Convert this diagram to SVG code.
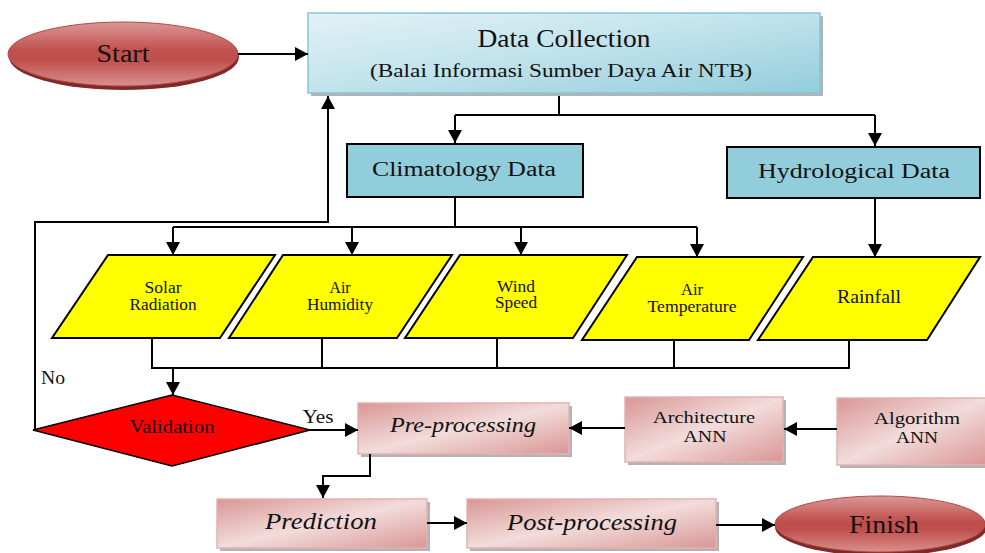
<svg xmlns="http://www.w3.org/2000/svg" width="985" height="553" viewBox="0 0 985 553">
<defs>
<marker id="arr" markerUnits="userSpaceOnUse" markerWidth="15" markerHeight="15" refX="13" refY="7" orient="auto">
<path d="M0,0 L13,7 L0,14 z" fill="#000"/>
</marker>
<linearGradient id="pink" x1="0" y1="0" x2="1" y2="1">
<stop offset="0" stop-color="#D99694"/>
<stop offset="0.5" stop-color="#F2DCDB"/>
<stop offset="1" stop-color="#D99694"/>
</linearGradient>
<linearGradient id="blue" x1="0" y1="0" x2="1" y2="1">
<stop offset="0" stop-color="#E2F2F6"/>
<stop offset="0.45" stop-color="#C4E4EC"/>
<stop offset="1" stop-color="#92CDDC"/>
</linearGradient>
<linearGradient id="red" x1="0" y1="0" x2="0" y2="1">
<stop offset="0" stop-color="#DA9896"/>
<stop offset="0.45" stop-color="#C0504D"/>
<stop offset="0.6" stop-color="#C0504D"/>
<stop offset="1" stop-color="#D8908E"/>
</linearGradient>
</defs>
<style>
text{font-family:"Liberation Serif","Times New Roman",serif;fill:#111;text-anchor:middle}
.conn{fill:none;stroke:#000;stroke-width:2}
.arrow{fill:none;stroke:#000;stroke-width:2;marker-end:url(#arr)}
.para{fill:#FFFF00;stroke:#000;stroke-width:2}
.pink{fill:url(#pink);stroke:#E3B3B2;stroke-width:1.5}
.shadow{fill:#A0A0A0;opacity:0.8}
.cyan{fill:#92CDDC;stroke:#000;stroke-width:2}
.oval{fill:url(#red);stroke:#B64845;stroke-width:1}
.ovsh{fill:#7E2A28}
.it{font-style:italic}
</style>

<g id="start">
<ellipse class="ovsh" cx="124" cy="57" rx="115" ry="33"/>
<ellipse class="oval" cx="123" cy="54" rx="115" ry="32"/>
<text x="123" y="62" font-size="26" textLength="53" lengthAdjust="spacingAndGlyphs">Start</text>
</g>

<g id="data-collection">
<rect class="shadow" x="311" y="16" width="512" height="80"/>
<rect x="308" y="13" width="512" height="80" fill="url(#blue)" stroke="#86C5D7" stroke-width="1.5"/>
<text x="564" y="47" font-size="25" textLength="173" lengthAdjust="spacingAndGlyphs">Data Collection</text>
<text x="561" y="77" font-size="19" textLength="382" lengthAdjust="spacingAndGlyphs">(Balai Informasi Sumber Daya Air NTB)</text>
</g>

<g id="climatology">
<rect class="cyan" x="347" y="144" width="236" height="53"/>
<text x="464" y="176" font-size="20" textLength="184" lengthAdjust="spacingAndGlyphs">Climatology Data</text>
</g>

<g id="hydrological">
<rect class="cyan" x="727" y="147" width="253" height="51"/>
<text x="854" y="178" font-size="20" textLength="192" lengthAdjust="spacingAndGlyphs">Hydrological Data</text>
</g>

<g id="solar-radiation">
<polygon class="para" points="108,255 275,255 220,338 52,338"/>
<text x="163" y="293" font-size="16" textLength="37" lengthAdjust="spacingAndGlyphs">Solar</text>
<text x="163" y="310" font-size="16" textLength="67" lengthAdjust="spacingAndGlyphs">Radiation</text>
</g>

<g id="air-humidity">
<polygon class="para" points="283,255 452,255 397,338 229,338"/>
<text x="340" y="293" font-size="16" textLength="21" lengthAdjust="spacingAndGlyphs">Air</text>
<text x="340" y="310" font-size="16" textLength="66" lengthAdjust="spacingAndGlyphs">Humidity</text>
</g>

<g id="wind-speed">
<polygon class="para" points="460,255 627,255 573,338 405,338"/>
<text x="516" y="292" font-size="16" textLength="38" lengthAdjust="spacingAndGlyphs">Wind</text>
<text x="516" y="308" font-size="16" textLength="42" lengthAdjust="spacingAndGlyphs">Speed</text>
</g>

<g id="air-temperature">
<polygon class="para" points="637,257 803,257 749,340 582,340"/>
<text x="692" y="295" font-size="16" textLength="22" lengthAdjust="spacingAndGlyphs">Air</text>
<text x="692" y="312" font-size="16" textLength="89" lengthAdjust="spacingAndGlyphs">Temperature</text>
</g>

<g id="rainfall">
<polygon class="para" points="813,257 980,257 927,340 758,340"/>
<text x="869" y="303" font-size="18" textLength="64" lengthAdjust="spacingAndGlyphs">Rainfall</text>
</g>

<g id="validation">
<polygon points="33,430 172,395 310,430 172,466" fill="#FF0000" stroke="#000" stroke-width="1.5"/>
<text x="172" y="433" font-size="18" textLength="85" lengthAdjust="spacingAndGlyphs">Validation</text>
</g>

<g id="pre-processing">
<rect class="shadow" x="361" y="406" width="211" height="51"/>
<rect class="pink" x="358" y="403" width="211" height="51"/>
<text class="it" x="463" y="432" font-size="22" textLength="146" lengthAdjust="spacingAndGlyphs">Pre-processing</text>
</g>

<g id="architecture-ann">
<rect class="shadow" x="628" y="400" width="158" height="65"/>
<rect class="pink" x="625" y="397" width="158" height="65"/>
<text x="704" y="423" font-size="17" textLength="102" lengthAdjust="spacingAndGlyphs">Architecture</text>
<text x="705" y="442" font-size="17" textLength="43" lengthAdjust="spacingAndGlyphs">ANN</text>
</g>

<g id="algorithm-ann">
<rect class="shadow" x="840" y="401" width="150" height="67"/>
<rect class="pink" x="837" y="398" width="150" height="67"/>
<text x="917" y="424" font-size="17" textLength="86" lengthAdjust="spacingAndGlyphs">Algorithm</text>
<text x="917" y="443" font-size="17" textLength="42" lengthAdjust="spacingAndGlyphs">ANN</text>
</g>

<g id="prediction">
<rect class="shadow" x="220" y="502" width="210" height="49"/>
<rect class="pink" x="217" y="499" width="210" height="49"/>
<text class="it" x="321" y="529" font-size="24" textLength="112" lengthAdjust="spacingAndGlyphs">Prediction</text>
</g>

<g id="post-processing">
<rect class="shadow" x="470" y="502" width="249" height="49"/>
<rect class="pink" x="467" y="499" width="249" height="49"/>
<text class="it" x="592" y="530" font-size="24" textLength="170" lengthAdjust="spacingAndGlyphs">Post-processing</text>
</g>

<g id="finish">
<ellipse class="ovsh" cx="881" cy="527" rx="106" ry="29"/>
<ellipse class="oval" cx="880" cy="524" rx="105" ry="28"/>
<text x="884" y="533" font-size="26" textLength="70" lengthAdjust="spacingAndGlyphs">Finish</text>
</g>

<g id="connectors">
<line class="arrow" x1="238" y1="54" x2="308" y2="54"/>
<path class="conn" d="M559,96 V115 M455,115 H875"/>
<line class="arrow" x1="455" y1="115" x2="455" y2="143"/>
<line class="arrow" x1="875" y1="115" x2="875" y2="146"/>
<path class="conn" d="M455,197 V227 M173,227 H697"/>
<line class="arrow" x1="173" y1="227" x2="173" y2="255"/>
<line class="arrow" x1="352" y1="227" x2="352" y2="255"/>
<line class="arrow" x1="521" y1="227" x2="521" y2="255"/>
<line class="arrow" x1="697" y1="227" x2="697" y2="257"/>
<line class="arrow" x1="875" y1="198" x2="875" y2="257"/>
<path class="conn" d="M152,338 V368 H849 V340 M322,338 V368 M497,338 V368 M674,340 V368"/>
<line class="arrow" x1="173" y1="368" x2="173" y2="395"/>
<line class="arrow" x1="310" y1="430" x2="358" y2="430"/>
<path class="arrow" d="M35,430 V222 H328 V96"/>
<line class="arrow" x1="625" y1="428" x2="569" y2="428"/>
<line class="arrow" x1="837" y1="429" x2="784" y2="429"/>
<path class="arrow" d="M370,454 V476 H323 V498"/>
<line class="arrow" x1="427" y1="523" x2="467" y2="523"/>
<line class="arrow" x1="716" y1="525" x2="775" y2="525"/>
<text x="53" y="384" font-size="18" textLength="24" lengthAdjust="spacingAndGlyphs">No</text>
<text x="318" y="423" font-size="18" textLength="31" lengthAdjust="spacingAndGlyphs">Yes</text>
</g>
</svg>
